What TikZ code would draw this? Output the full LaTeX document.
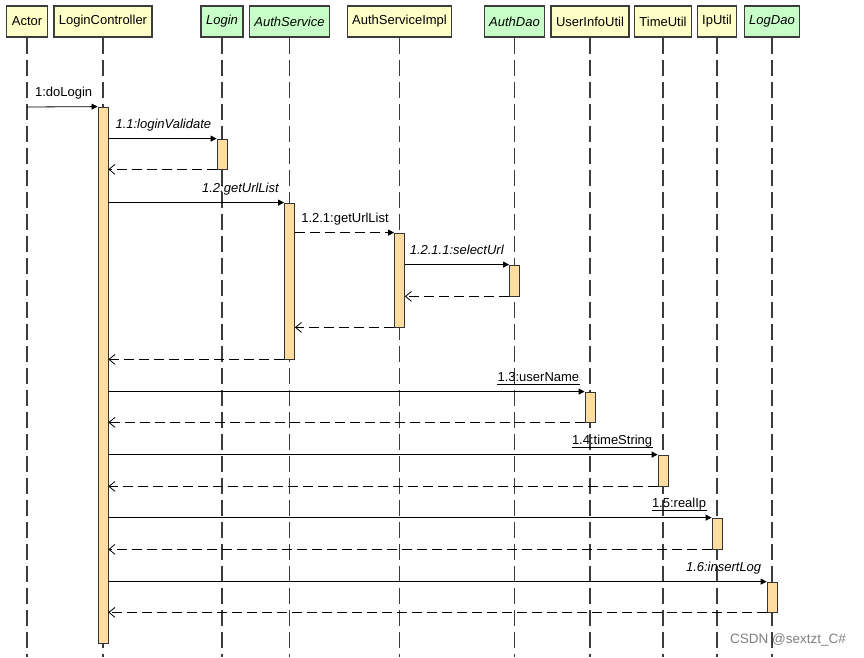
\documentclass[tikz,border=0pt]{standalone}
\usepackage{fontspec}
\setmainfont{Liberation Sans}
\usetikzlibrary{arrows.meta}

\definecolor{headyellow}{RGB}{255,255,200}
\definecolor{headgreen}{RGB}{200,255,200}
\definecolor{actorange}{RGB}{255,221,160}
\definecolor{linegray}{RGB}{60,60,60}

\tikzset{
  head/.style={draw=linegray, line width=1.2pt, fill=headyellow, minimum height=31pt,
    inner xsep=5pt, inner ysep=0pt, font=\fontsize{13}{15}\selectfont},
  iface/.style={head, fill=headgreen, font=\fontsize{13}{15}\selectfont\itshape},
  lifeline/.style={draw=linegray, line width=1.3pt, dash pattern=on 16pt off 6pt},
  actbar/.style={draw=black!80, line width=0.8pt, fill=actorange, minimum width=10pt, inner sep=0pt},
  call/.style={-{Triangle[length=6pt,width=6pt]}, line width=0.8pt},
  callback/.style={-{Straight Barb[length=6pt,width=10pt]}, line width=0.8pt, dash pattern=on 10pt off 5pt},
  msg/.style={anchor=base east, inner sep=0pt, pos=1, xshift=-5pt, yshift=10pt,
    font=\fontsize{13}{15}\selectfont},
}

\begin{document}
\begin{tikzpicture}[x=1pt, y=-1pt]
  \useasboundingbox (0,0) rectangle (864,657);

  % lifeline heads
  \node[head]  (actor) at (27,21.5)    {Actor};
  \node[head]  (ctrl)  at (103,21.5)   {LoginController};
  \node[iface] (login) at (222,21.5)   {Login};
  \node[iface] (auth)  at (289.5,21.5) {AuthService};
  \node[head]  (impl)  at (399.5,21.5) {AuthServiceImpl};
  \node[iface] (dao)   at (514.5,21.5) {AuthDao};
  \node[head]  (user)  at (590,21.5)   {UserInfoUtil};
  \node[head]  (time)  at (663,21.5)   {TimeUtil};
  \node[head]  (ip)    at (717,21.5)   {IpUtil};
  \node[iface] (log)   at (772,21.5)   {LogDao};

  % lifelines
  \foreach \h in {actor,ctrl,login,auth,impl,dao,user,time,ip,log}
    \draw[lifeline] (\h.south) -- (\h.south |- 0,657);

  % activation bars
  \node[actbar, minimum height=536pt] (aCtrl)  at (103,375)   {};
  \node[actbar, minimum height=30pt]  (aLogin) at (222,154)   {};
  \node[actbar, minimum height=156pt] (aAuth)  at (289.5,281) {};
  \node[actbar, minimum height=94pt]  (aImpl)  at (399.5,280) {};
  \node[actbar, minimum height=31pt]  (aDao)   at (514.5,280.5) {};
  \node[actbar, minimum height=30pt]  (aUser)  at (590,407)   {};
  \node[actbar, minimum height=31pt]  (aTime)  at (663,470.5) {};
  \node[actbar, minimum height=31pt]  (aIp)    at (717,533.5) {};
  \node[actbar, minimum height=30pt]  (aLog)   at (772,597)   {};

  % messages
  \coordinate (start) at (27,107);
  \draw[call] (start) -- (aCtrl.north west) node[msg] (m1) {1:doLogin};

  \draw[call] (aCtrl.east |- aLogin.north) -- (aLogin.north west)
    node[msg] (m11) {\itshape 1.1:loginValidate};
  \draw[callback] (aLogin.south west) -- (aCtrl.east |- aLogin.south);

  \draw[call] (aCtrl.east |- aAuth.north) -- (aAuth.north west)
    node[msg] (m12) {\itshape 1.2:getUrlList};
  \draw[call, dash pattern=on 10pt off 5pt] (aAuth.east |- aImpl.north) -- (aImpl.north west)
    node[msg] (m121) {1.2.1:getUrlList};
  \draw[call] (aImpl.east |- aDao.north) -- (aDao.north west)
    node[msg] (m1211) {\itshape 1.2.1.1:selectUrl};
  \draw[callback] (aDao.south west) -- (aImpl.east |- aDao.south);
  \draw[callback] (aImpl.south west) -- (aAuth.east |- aImpl.south);
  \draw[callback] (aAuth.south west) -- (aCtrl.east |- aAuth.south);

  \draw[call] (aCtrl.east |- aUser.north) -- (aUser.north west)
    node[msg] (m13) {1.3:userName};
  \draw[callback] (aUser.south west) -- (aCtrl.east |- aUser.south);

  \draw[call] (aCtrl.east |- aTime.north) -- (aTime.north west)
    node[msg] (m14) {1.4:timeString};
  \draw[callback] (aTime.south west) -- (aCtrl.east |- aTime.south);

  \draw[call] (aCtrl.east |- aIp.north) -- (aIp.north west)
    node[msg] (m15) {1.5:realIp};
  \draw[callback] (aIp.south west) -- (aCtrl.east |- aIp.south);

  \draw[call] (aCtrl.east |- aLog.north) -- (aLog.north west)
    node[msg] (m16) {\itshape 1.6:insertLog};
  \draw[callback] (aLog.south west) -- (aCtrl.east |- aLog.south);

  % underlined labels
  \foreach \m in {m13,m14,m15}
    \draw[line width=0.7pt] ([yshift=-2.5pt]\m.base west) -- ([yshift=-2.5pt]\m.base east);

  \node[text=gray, font=\fontsize{13.5}{15}\selectfont] (mark) at (788,640) {CSDN @sextzt\_C\#};
\end{tikzpicture}
\end{document}
